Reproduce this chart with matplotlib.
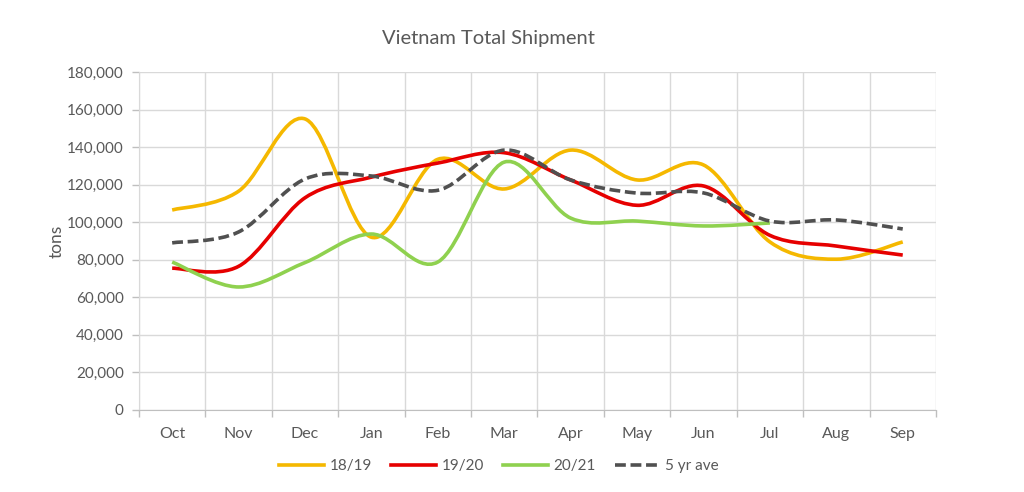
import matplotlib
matplotlib.use('Agg')
import matplotlib.pyplot as plt
import numpy as np
from matplotlib.path import Path
from matplotlib.patches import PathPatch
from matplotlib.lines import Line2D
from matplotlib.ticker import FuncFormatter

plt.rcParams['font.family'] = ['Lato', 'DejaVu Sans']

months = ['Oct', 'Nov', 'Dec', 'Jan', 'Feb', 'Mar', 'Apr', 'May', 'Jun', 'Jul', 'Aug', 'Sep']
s1819 = [106500, 116500, 155000, 92000, 133500, 117700, 138400, 122500, 130500, 89500, 80300, 89500]
s1920 = [75500, 76500, 113000, 124000, 131500, 137000, 122500, 109000, 119300, 93000, 87300, 82500]
s2021 = [78800, 65500, 78500, 93700, 78800, 132000, 102200, 100600, 98000, 99600]
s5yr = [89000, 94800, 123000, 124600, 117000, 138400, 122500, 115500, 115600, 100600, 101200, 96400]

txt = '#595959'


# Excel-style smoothed line: cubic Bezier between points
def smooth_path(y):
    x = np.arange(len(y), dtype=float)
    y = np.asarray(y, dtype=float)
    n = len(y)
    verts = [(x[0], y[0])]
    codes = [Path.MOVETO]
    for i in range(n - 1):
        p0 = (x[max(i - 1, 0)], y[max(i - 1, 0)])
        p1 = (x[i], y[i])
        p2 = (x[i + 1], y[i + 1])
        p3 = (x[min(i + 2, n - 1)], y[min(i + 2, n - 1)])
        c1 = (p1[0] + (p2[0] - p0[0]) / 6, p1[1] + (p2[1] - p0[1]) / 6)
        c2 = (p2[0] - (p3[0] - p1[0]) / 6, p2[1] - (p3[1] - p1[1]) / 6)
        verts += [c1, c2, p2]
        codes += [Path.CURVE4] * 3
    return Path(verts, codes)


fig = plt.figure(figsize=(10.24, 4.92), dpi=100)
ax = fig.add_axes([0.1357, 0.1667, 0.7783, 0.687])

series = [
    (s1819, '18/19', '#f5b800', '-'),
    (s1920, '19/20', '#e60000', '-'),
    (s2021, '20/21', '#8fd14f', '-'),
    (s5yr, '5 yr ave', '#505050', (0, (3, 1.3))),
]
handles = []
for vals, lab, col, ls in series:
    patch = PathPatch(smooth_path(vals), facecolor='none', edgecolor=col,
                      lw=2.6, linestyle=ls, capstyle='butt', zorder=3)
    ax.add_patch(patch)
    handles.append(Line2D([], [], color=col, lw=2.6, linestyle=ls, label=lab))

ax.set_xlim(-0.5, 11.5)
ax.set_ylim(0, 180000)
ax.set_yticks(np.arange(0, 180001, 20000))
ax.yaxis.set_major_formatter(FuncFormatter(lambda v, p: f'{int(v):,}'))
ax.set_xticks(np.arange(12))
ax.set_xticklabels(months)
ax.set_xticks(np.arange(-0.5, 12, 1), minor=True)
ax.tick_params(axis='x', which='major', length=0, pad=12, labelsize=11.5, labelcolor=txt)
ax.tick_params(axis='x', which='minor', length=5, color='#bfbfbf', width=1)
ax.tick_params(axis='y', length=5, color='#bfbfbf', width=1, pad=6, labelsize=11, labelcolor=txt)

ax.grid(True, axis='y', color='#d9d9d9', lw=1)
ax.grid(True, axis='x', which='minor', color='#d9d9d9', lw=1)
ax.set_axisbelow(True)
for sp in ['top', 'right']:
    ax.spines[sp].set_visible(False)
ax.spines['left'].set_color('#d9d9d9')
ax.spines['bottom'].set_color('#bfbfbf')

ax.set_ylabel('tons', fontsize=12.5, color=txt, labelpad=2)
fig.text(0.477, 0.922, 'Vietnam Total Shipment', ha='center', va='center', fontsize=14.5, color=txt)

fig.legend(handles=handles, loc='center', bbox_to_anchor=(0.4875, 0.052), ncol=4,
           frameon=False, fontsize=11, handlelength=2.95, handletextpad=0.35,
           columnspacing=1.25, labelcolor=txt)

fig.savefig('out.png', dpi=100)
